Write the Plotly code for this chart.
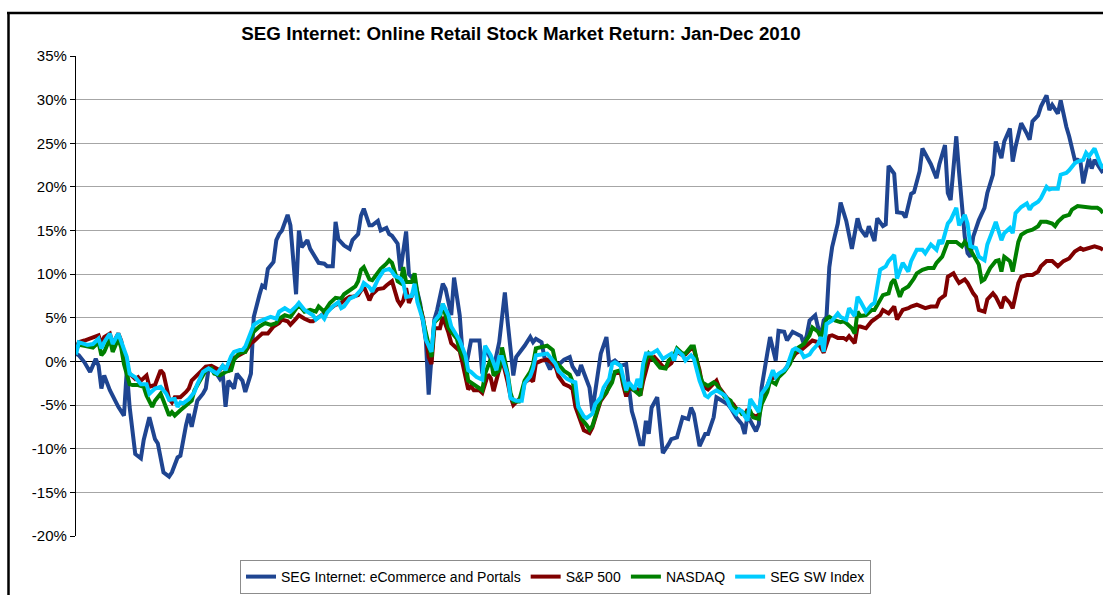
import plotly.graph_objects as go

# (day of year, cumulative return %)
seg_internet = [
    (1, 0.9), (2, 0.7), (4, -0.1), (6, -1.2), (8, 0.3), (9, -0.5), (10, -3.1), (11, -1.6), (13, -3.3), (15, -4.7),
    (16, -5.2), (18, -6.2), (19, -1.0), (20, -5.2), (22, -10.6), (24, -11.1), (25, -9.0), (27, -6.4), (29, -8.9), (30, -9.4),
    (32, -12.7), (34, -13.2), (35, -12.7), (37, -11.0), (38, -10.8), (40, -7.3), (41, -6.0), (42, -7.5), (44, -4.5), (46, -3.7),
    (47, -3.1), (48, -0.8), (50, -1.0), (52, -2.0), (53, -1.4), (54, -5.2), (55, -2.2), (57, -3.1), (58, -1.4), (60, -2.2),
    (61, -3.5), (63, -1.4), (64, 5.1), (66, 7.6), (67, 8.7), (68, 8.5), (69, 10.6), (71, 11.4), (72, 13.9), (73, 14.6),
    (74, 15.0), (76, 16.8), (77, 15.6), (79, 7.7), (80, 15.0), (81, 13.1), (83, 13.9), (84, 12.9), (86, 11.8), (87, 11.3),
    (89, 11.2), (90, 10.9), (92, 10.9), (93, 16.0), (94, 14.0), (96, 13.3), (98, 12.9), (99, 13.9), (101, 14.6), (102, 16.7),
    (103, 17.5), (105, 15.6), (106, 15.6), (108, 16.1), (109, 15.0), (111, 15.3), (112, 14.6), (113, 14.4), (115, 13.5), (116, 10.4),
    (118, 14.9), (119, 10.0), (121, 9.3), (123, 6.6), (125, 2.4), (126, -3.8), (128, 4.8), (129, 5.9), (131, 8.9), (132, 8.3),
    (134, 5.3), (135, 9.6), (137, 5.3), (138, 0.9), (139, -1.0), (141, 2.4), (142, 2.4), (144, 2.4), (145, -1.4), (146, 1.6),
    (148, 0.3), (149, -0.8), (151, 2.2), (153, 7.9), (154, 4.5), (156, -1.6), (157, 0.5), (159, 1.3), (160, 1.8), (162, 2.8),
    (163, 2.2), (164, 2.6), (166, 2.2), (167, 0.5), (169, -0.9), (170, -0.3), (171, -0.7), (173, -0.1), (174, 0.2), (176, 0.5),
    (177, -0.6), (179, -1.6), (180, -0.4), (181, -1.3), (183, -3.0), (184, -5.7), (186, -1.6), (187, 0.9), (189, 2.8), (190, -0.3),
    (192, 0.1), (194, -0.5), (196, -0.3), (197, -3.0), (198, -5.7), (199, -6.8), (201, -9.5), (202, -9.5), (203, -6.8), (204, -8.3),
    (205, -5.3), (207, -4.1), (208, -7.6), (209, -10.5), (211, -9.5), (212, -8.9), (214, -8.7), (215, -7.6), (216, -6.4), (218, -6.6),
    (219, -5.3), (220, -6.0), (221, -7.6), (222, -9.7), (224, -8.3), (225, -8.3), (227, -6.4), (228, -4.1), (230, -4.5), (232, -4.9),
    (233, -5.3), (235, -6.4), (237, -7.2), (238, -8.3), (239, -6.2), (240, -6.8), (242, -8.0), (243, -7.2), (244, -3.0), (246, 0.9),
    (247, 2.8), (249, 0.1), (250, 3.5), (252, 3.4), (253, 2.4), (255, 3.4), (256, 3.2), (258, 2.9), (259, 2.0), (260, 3.0),
    (261, 4.7), (263, 5.3), (264, 3.9), (265, 2.8), (266, 4.7), (267, 5.1), (268, 10.8), (269, 13.1), (271, 15.8), (272, 18.2),
    (274, 16.1), (275, 14.2), (276, 12.9), (278, 16.4), (279, 15.2), (281, 14.3), (282, 15.5), (284, 13.8), (285, 16.4), (287, 15.5),
    (288, 15.7), (289, 22.4), (291, 21.5), (292, 17.1), (294, 17.0), (295, 16.5), (297, 19.2), (298, 19.4), (300, 21.8), (301, 24.4),
    (302, 23.8), (304, 22.6), (306, 21.0), (307, 22.6), (309, 24.8), (310, 19.3), (311, 18.5), (312, 21.6), (313, 25.8), (314, 21.6),
    (315, 17.4), (316, 14.3), (317, 12.4), (318, 12.0), (319, 14.3), (321, 16.2), (323, 17.6), (324, 19.3), (326, 21.4), (327, 25.2),
    (329, 23.3), (330, 25.2), (332, 26.7), (333, 22.9), (334, 24.6), (336, 27.3), (338, 26.1), (339, 25.4), (340, 27.5), (342, 28.2),
    (343, 29.2), (345, 30.5), (346, 28.8), (347, 29.4), (349, 28.4), (350, 29.9), (352, 26.9), (353, 25.8), (355, 23.1), (356, 23.1),
    (357, 22.9), (358, 20.4), (359, 21.9), (360, 23.3), (361, 22.1), (362, 23.1), (364, 22.1), (365, 21.6),
]

sp500 = [
    (1, 1.6), (2, 2.2), (4, 2.4), (6, 2.6), (7, 2.8), (9, 3.0), (10, 2.0), (11, 2.8), (13, 3.2), (14, 2.0),
    (16, 3.2), (17, 2.4), (18, 0.9), (20, -1.4), (22, -2.0), (23, -1.8), (24, -2.2), (26, -1.6), (27, -2.9), (29, -2.7),
    (31, -1.0), (32, -1.4), (34, -4.3), (35, -4.7), (36, -4.1), (38, -4.1), (40, -3.5), (41, -3.1), (42, -2.2), (44, -1.6),
    (46, -1.0), (47, -0.6), (49, -0.5), (51, -0.8), (52, -1.0), (53, -0.5), (55, -1.0), (57, 0.4), (59, 0.8), (61, 1.1),
    (63, 2.1), (64, 2.3), (66, 2.9), (67, 3.2), (69, 3.2), (71, 4.0), (73, 4.4), (74, 4.8), (76, 4.6), (77, 4.2),
    (79, 4.9), (80, 5.3), (82, 4.9), (84, 4.6), (85, 4.6), (87, 5.1), (89, 5.5), (91, 6.1), (93, 6.5), (95, 6.7),
    (96, 7.0), (98, 7.4), (99, 7.4), (101, 7.6), (103, 8.6), (105, 7.0), (106, 7.7), (108, 8.3), (110, 8.4), (111, 8.7),
    (113, 9.2), (115, 7.0), (116, 6.5), (117, 7.0), (118, 8.4), (119, 6.7), (121, 8.3), (122, 7.4), (124, 5.0), (125, 2.8),
    (126, 0.5), (127, -0.3), (128, 3.8), (130, 3.8), (131, 5.1), (133, 3.3), (134, 2.1), (135, 1.8), (137, 1.2), (138, -0.2),
    (140, -3.2), (141, -2.8), (142, -3.3), (144, -3.3), (145, -3.6), (147, -1.5), (148, -1.9), (149, -3.4), (151, -0.7), (152, 0.3),
    (154, -2.4), (155, -4.0), (156, -5.0), (157, -4.7), (159, -4.0), (160, -2.4), (162, -2.0), (163, -2.3), (164, -0.2), (166, 0.1),
    (168, 0.2), (169, 0.0), (171, -0.6), (172, -1.7), (173, -2.2), (174, -2.6), (176, -2.9), (177, -3.2), (178, -5.2), (180, -6.9),
    (181, -7.9), (183, -8.2), (184, -7.6), (186, -5.5), (187, -4.5), (189, -3.6), (191, -1.8), (192, -1.4), (194, -1.2), (195, -2.8),
    (196, -4.0), (197, -3.0), (199, -3.3), (200, -3.2), (201, -3.9), (202, -2.3), (203, -1.0), (204, 0.1), (206, 0.5), (207, 0.1),
    (209, -0.6), (210, -0.7), (212, -0.2), (213, 0.5), (214, 1.1), (216, 0.7), (217, 0.8), (219, 1.5), (220, 1.4), (222, -1.0),
    (223, -2.8), (225, -3.2), (226, -2.9), (228, -2.2), (229, -3.0), (231, -3.8), (232, -4.3), (234, -4.9), (235, -5.4), (237, -5.8),
    (238, -6.2), (239, -5.5), (240, -6.0), (242, -6.3), (243, -6.1), (244, -4.5), (246, -3.0), (247, -2.0), (249, -1.8), (251, -1.4),
    (253, -0.6), (255, 0.5), (256, 0.9), (258, 1.3), (260, 1.8), (262, 2.4), (264, 2.2), (265, 1.5), (266, 1.0), (268, 2.9),
    (269, 3.0), (271, 2.7), (273, 2.7), (274, 2.5), (275, 2.9), (277, 2.1), (278, 4.0), (279, 4.0), (281, 3.8), (283, 4.6),
    (284, 4.8), (286, 5.3), (287, 5.9), (289, 5.5), (290, 5.9), (291, 6.3), (292, 4.8), (294, 5.9), (296, 6.1), (297, 6.3),
    (299, 6.5), (301, 6.3), (302, 6.1), (304, 6.3), (306, 6.3), (307, 7.1), (309, 7.6), (310, 9.7), (312, 10.1), (313, 9.5),
    (314, 9.0), (316, 9.4), (317, 9.0), (319, 7.8), (320, 7.4), (321, 5.9), (323, 5.7), (324, 7.1), (326, 7.8), (327, 7.4),
    (329, 6.1), (330, 7.4), (332, 6.7), (333, 6.1), (335, 9.0), (336, 9.7), (338, 9.9), (340, 9.9), (342, 10.3), (343, 10.9),
    (345, 11.5), (347, 11.5), (349, 10.9), (351, 11.5), (353, 11.8), (355, 12.6), (357, 13.0), (358, 12.8), (360, 13.0), (362, 13.2),
    (364, 13.0), (365, 12.8),
]

nasdaq = [
    (1, 1.3), (2, 1.9), (4, 1.8), (6, 1.6), (7, 1.6), (9, 2.2), (10, 0.7), (11, 1.1), (13, 2.6), (14, 1.1),
    (16, 2.6), (17, 1.6), (18, -0.3), (20, -2.6), (21, -2.7), (23, -2.7), (25, -2.9), (26, -3.9), (28, -5.2), (29, -4.5),
    (31, -3.7), (32, -4.5), (34, -6.2), (35, -5.8), (36, -6.2), (38, -5.6), (40, -5.0), (42, -4.5), (43, -3.3), (45, -2.2),
    (47, -1.0), (49, -0.8), (50, -1.4), (52, -1.6), (54, -1.2), (56, -1.0), (57, 0.2), (59, 1.0), (61, 1.1), (63, 2.7),
    (64, 3.4), (66, 4.0), (68, 4.4), (70, 4.2), (72, 4.4), (73, 4.9), (75, 5.3), (77, 5.1), (79, 6.1), (80, 6.5),
    (82, 5.7), (84, 5.9), (86, 5.7), (87, 6.3), (89, 5.7), (91, 6.7), (93, 7.3), (95, 7.2), (96, 7.7), (98, 8.2),
    (100, 8.6), (101, 9.2), (102, 10.5), (103, 10.8), (105, 9.4), (106, 9.3), (108, 10.2), (109, 10.6), (111, 11.2), (112, 11.6),
    (113, 11.3), (115, 9.2), (116, 9.0), (117, 10.8), (118, 9.1), (120, 9.1), (121, 10.1), (122, 7.8), (124, 4.7), (126, 2.0),
    (127, 0.5), (128, 4.5), (130, 5.1), (131, 6.6), (133, 3.9), (134, 3.4), (136, 2.6), (137, 1.3), (139, -0.1), (140, -2.2),
    (141, -2.4), (143, -2.8), (145, -3.3), (146, -1.4), (148, 0.3), (149, -1.6), (151, -1.0), (152, 1.6), (154, -1.4), (155, -3.6),
    (156, -4.6), (158, -4.6), (160, -2.2), (162, -1.2), (163, -0.3), (164, 1.5), (167, 1.8), (168, 1.8), (170, 1.3), (171, -0.1),
    (173, -0.7), (174, -1.1), (176, -1.5), (177, -2.3), (179, -5.2), (180, -6.5), (182, -7.3), (183, -7.8), (184, -7.4), (186, -5.3),
    (187, -4.3), (189, -3.5), (191, -2.4), (192, -1.2), (194, -1.0), (195, -2.4), (196, -3.5), (197, -2.8), (199, -3.3), (201, -3.9),
    (202, -1.4), (203, 0.1), (204, 0.9), (206, 0.1), (208, -0.7), (210, -0.8), (211, 0.1), (213, 0.7), (214, 1.5), (216, 0.9),
    (217, 0.9), (219, 1.7), (220, 1.7), (222, -1.4), (223, -2.4), (225, -2.8), (227, -2.4), (228, -2.6), (230, -3.7), (231, -4.1),
    (233, -4.5), (234, -5.3), (236, -5.5), (237, -6.0), (239, -5.8), (240, -5.7), (241, -6.4), (243, -6.6), (244, -4.9), (246, -3.5),
    (247, -2.2), (249, -2.6), (250, -1.8), (252, -1.2), (254, -0.3), (256, 1.3), (257, 1.6), (259, 2.0), (261, 3.0), (262, 3.9),
    (264, 3.4), (265, 2.8), (267, 4.9), (268, 5.1), (270, 4.7), (272, 4.5), (273, 4.6), (274, 4.4), (276, 3.8), (277, 3.2),
    (278, 5.7), (279, 5.2), (281, 5.3), (283, 5.9), (284, 5.9), (286, 6.9), (287, 7.6), (289, 7.8), (290, 9.0), (291, 9.4),
    (293, 7.4), (294, 8.2), (296, 8.6), (298, 9.5), (299, 10.1), (301, 10.5), (303, 10.7), (305, 10.7), (306, 11.3), (308, 12.0),
    (310, 13.7), (312, 13.7), (313, 13.7), (315, 13.2), (316, 13.7), (318, 12.8), (320, 11.5), (321, 11.1), (322, 9.2), (323, 9.4),
    (325, 10.7), (327, 11.5), (328, 11.6), (329, 10.3), (330, 12.0), (332, 11.5), (333, 10.3), (335, 13.7), (336, 14.5), (338, 14.9),
    (340, 15.1), (342, 15.5), (343, 16.0), (345, 16.0), (347, 15.8), (348, 15.5), (349, 16.0), (351, 16.6), (353, 16.8), (354, 17.4),
    (356, 17.8), (358, 17.7), (359, 17.6), (361, 17.6), (363, 17.6), (364, 17.4), (365, 17.0),
]

seg_sw = [
    (1, 0.8), (2, 2.2), (3, 2.1), (5, 1.9), (7, 2.0), (9, 2.6), (10, 1.5), (11, 2.2), (13, 3.2), (14, 2.0),
    (16, 3.2), (17, 2.2), (19, 0.5), (20, -1.4), (22, -1.8), (24, -2.6), (26, -2.6), (27, -3.7), (29, -3.1), (31, -2.9),
    (33, -3.7), (34, -4.4), (36, -4.3), (37, -5.2), (38, -4.7), (39, -4.8), (41, -4.3), (43, -3.5), (44, -2.6), (46, -1.2),
    (48, -0.8), (49, -1.0), (51, -1.4), (53, -0.5), (54, -1.0), (56, 0.6), (57, 1.1), (59, 1.3), (60, 1.3), (61, 1.7),
    (63, 3.6), (64, 4.2), (66, 4.6), (68, 4.8), (70, 5.1), (72, 4.9), (73, 5.7), (75, 6.1), (77, 5.7), (79, 6.3),
    (80, 6.7), (82, 5.9), (83, 5.7), (85, 5.3), (86, 4.8), (88, 5.3), (89, 4.9), (90, 5.6), (92, 6.3), (94, 6.8),
    (95, 6.1), (96, 6.3), (98, 7.2), (100, 7.5), (102, 8.2), (103, 9.0), (105, 8.5), (106, 8.0), (108, 9.4), (110, 10.4),
    (112, 10.6), (113, 10.3), (114, 9.8), (116, 9.5), (117, 9.0), (118, 7.4), (120, 7.5), (121, 8.9), (122, 6.8), (124, 4.7),
    (125, 2.5), (127, 1.1), (128, 4.6), (130, 5.4), (131, 6.6), (133, 5.3), (134, 4.0), (136, 3.0), (137, 2.4), (139, 0.7),
    (140, -1.0), (141, -1.2), (143, -1.8), (145, -2.1), (146, 1.8), (148, 0.7), (150, -1.0), (151, 0.5), (152, 0.5), (154, -1.6),
    (155, -4.2), (157, -4.5), (159, -4.5), (160, -2.5), (162, -1.7), (163, -0.8), (164, 0.7), (166, 0.8), (168, 0.9), (169, 0.5),
    (171, -0.3), (172, -1.1), (174, -1.7), (175, -2.0), (177, -2.3), (178, -2.4), (179, -5.2), (181, -6.3), (182, -6.5), (184, -6.0),
    (185, -4.9), (187, -4.1), (188, -3.0), (190, -2.0), (191, -0.3), (192, -0.1), (194, -0.5), (195, -1.8), (196, -3.3), (197, -2.4),
    (199, -3.2), (200, -2.0), (201, -3.0), (202, -0.3), (203, 0.9), (205, 0.9), (207, 1.3), (209, 0.3), (210, 0.5), (212, 0.9),
    (213, 0.1), (214, 1.3), (216, 0.7), (217, 0.1), (219, 0.7), (220, 0.3), (222, -2.2), (224, -3.9), (225, -4.1), (226, -3.7),
    (228, -3.3), (229, -3.5), (231, -3.9), (232, -4.5), (233, -5.3), (235, -6.0), (236, -5.5), (237, -5.7), (239, -6.8), (240, -4.3),
    (242, -5.3), (243, -5.8), (244, -3.7), (246, -2.8), (248, -1.0), (249, -1.8), (250, -1.4), (252, -1.0), (253, -0.6), (255, 1.3),
    (256, 1.5), (258, 1.1), (259, 0.5), (261, 0.8), (262, 1.3), (264, 2.0), (265, 2.8), (266, 1.1), (267, 4.3), (269, 4.7),
    (271, 5.5), (272, 5.1), (274, 4.8), (275, 6.1), (277, 5.2), (278, 7.4), (279, 6.9), (281, 5.7), (283, 6.5), (284, 6.7),
    (286, 10.5), (288, 10.9), (289, 11.5), (291, 12.2), (292, 9.5), (294, 11.3), (296, 10.3), (297, 11.5), (299, 12.8), (301, 12.8),
    (302, 12.4), (304, 13.4), (306, 12.8), (307, 13.9), (308, 13.5), (310, 15.8), (311, 16.2), (313, 17.6), (314, 15.6), (316, 16.8),
    (317, 15.8), (318, 13.2), (320, 13.0), (321, 12.0), (323, 11.6), (324, 13.4), (326, 15.1), (327, 16.0), (329, 13.9), (330, 14.7),
    (332, 15.3), (333, 14.7), (334, 17.0), (336, 17.7), (338, 18.1), (339, 17.4), (340, 17.9), (342, 18.3), (343, 18.7), (345, 20.0),
    (346, 19.7), (347, 19.8), (349, 19.8), (350, 21.4), (352, 21.6), (353, 21.9), (355, 22.7), (356, 22.9), (358, 23.1), (359, 23.9),
    (360, 23.5), (362, 24.4), (364, 22.7), (365, 22.1),
]

series_names = ["SEG Internet: eCommerce and Portals", "S&P 500", "NASDAQ", "SEG SW Index"]
series_colors = ["#1F4591", "#800000", "#008000", "#00CCFF"]
y_ticks = [-20, -15, -10, -5, 0, 5, 10, 15, 20, 25, 30, 35]
title_text = "SEG Internet: Online Retail Stock Market Return: Jan-Dec 2010"

FONT = "Liberation Sans, Arial, sans-serif"

fig = go.Figure()
for data, name, color in zip([seg_internet, sp500, nasdaq, seg_sw], series_names, series_colors):
    fig.add_trace(go.Scatter(
        x=[d for d, _ in data], y=[v for _, v in data], name=name, mode="lines",
        line=dict(color=color, width=4), hoverinfo="skip",
    ))

# Page pixels; the page body margin is removed by a small post script so the figure fills the window.
W, H = 1103, 595
L, R, T, B = 76, 0, 56, 595 - 536
pw, ph = W - L - R, H - T - B

def px_to_paper_x(px):
    return (px - L) / pw

def px_to_paper_y(py):
    return (H - B - py) / ph

fig.update_layout(
    width=W, height=H,
    margin=dict(l=L, r=R, t=T, b=B, pad=0),
    paper_bgcolor="white", plot_bgcolor="white",
    font=dict(family=FONT, color="black"),
    title=dict(text="<b>" + title_text + "</b>", x=521 / W, xref="container", xanchor="center",
               y=1 - 33 / H, yref="container", yanchor="middle",
               font=dict(family=FONT, size=18.8, color="black")),
    showlegend=True,
    legend=dict(orientation="h", x=px_to_paper_x(240), y=px_to_paper_y(560), xanchor="left", yanchor="top",
                bgcolor="white", bordercolor="#8C8C8C", borderwidth=1,
                font=dict(family=FONT, size=14, color="black"), itemwidth=30, traceorder="normal"),
    xaxis=dict(range=[1, 365], showticklabels=False, showgrid=False, zeroline=False, showline=False, ticks="",
               fixedrange=True),
    yaxis=dict(range=[-20, 35], tickvals=y_ticks, ticktext=[f"{v}%" for v in y_ticks],
               showgrid=True, gridcolor="#A6A6A6", gridwidth=1,
               zeroline=True, zerolinecolor="black", zerolinewidth=1.2,
               showline=True, linecolor="black", linewidth=1.2,
               ticks="outside", ticklen=5, tickcolor="black", fixedrange=True,
               tickfont=dict(family=FONT, size=15, color="black")),
    shapes=[
        dict(type="line", xref="paper", yref="paper", x0=px_to_paper_x(7), x1=px_to_paper_x(1110),
             y0=px_to_paper_y(13), y1=px_to_paper_y(13), line=dict(color="black", width=2.5)),
        dict(type="line", xref="paper", yref="paper", x0=px_to_paper_x(8.5), x1=px_to_paper_x(8.5),
             y0=px_to_paper_y(13), y1=px_to_paper_y(600), line=dict(color="black", width=2.5)),
    ],
)

fig.write_html("out.html", config={"displayModeBar": False},
               post_script="document.body.style.margin='0';document.body.style.overflow='hidden';")
